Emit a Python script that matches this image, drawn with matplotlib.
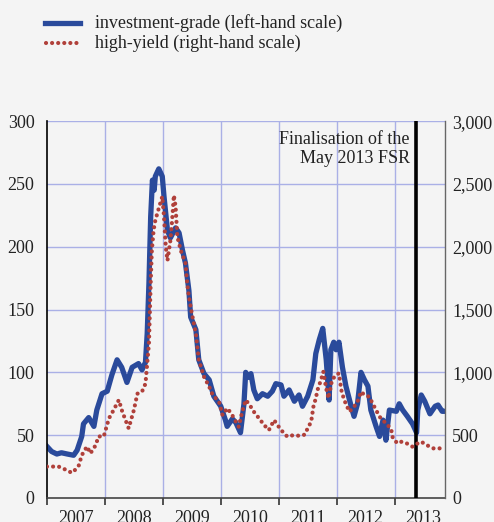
import matplotlib
matplotlib.use("Agg")
import matplotlib.pyplot as plt
from matplotlib.ticker import FixedLocator, FuncFormatter

plt.rcParams['font.family'] = ['Liberation Serif', 'DejaVu Serif']

# investment-grade (left-hand scale), basis points
ig_dates = [2007.00, 2007.08, 2007.17, 2007.25, 2007.35, 2007.46, 2007.52, 2007.60, 2007.63, 2007.72,
            2007.81, 2007.86, 2007.95, 2008.04, 2008.12, 2008.21, 2008.29, 2008.38, 2008.47, 2008.58,
            2008.64, 2008.70, 2008.73, 2008.76, 2008.79, 2008.82, 2008.85, 2008.87, 2008.93, 2008.99,
            2009.02, 2009.08, 2009.13, 2009.22, 2009.28, 2009.34, 2009.39, 2009.45, 2009.48, 2009.57,
            2009.62, 2009.71, 2009.80, 2009.88, 2010.00, 2010.08, 2010.11, 2010.20, 2010.26, 2010.34,
            2010.40, 2010.43, 2010.48, 2010.52, 2010.57, 2010.63, 2010.72, 2010.81, 2010.89, 2010.95,
            2011.04, 2011.09, 2011.18, 2011.27, 2011.35, 2011.41, 2011.50, 2011.59, 2011.64, 2011.70,
            2011.76, 2011.82, 2011.87, 2011.90, 2011.95, 2011.99, 2012.04, 2012.10, 2012.16, 2012.25,
            2012.30, 2012.36, 2012.42, 2012.48, 2012.54, 2012.59, 2012.68, 2012.74, 2012.80, 2012.85,
            2012.91, 2013.03, 2013.08, 2013.14, 2013.22, 2013.31, 2013.38, 2013.40, 2013.46, 2013.52,
            2013.61, 2013.70, 2013.75, 2013.82, 2013.87]
ig_values = [41, 37, 35, 36, 35, 34, 38, 49, 59, 64,
             57, 70, 83, 85, 98, 110, 104, 92, 104, 107,
             102, 108, 131, 171, 224, 253, 245, 256, 262, 256,
             240, 213, 207, 215, 211, 197, 187, 165, 144, 134,
             110, 99, 94, 81, 73, 62, 57, 63, 60, 52,
             75, 100, 96, 99, 86, 79, 83, 81, 85, 91,
             90, 81, 86, 77, 82, 73, 81, 94, 115, 126,
             135, 110, 78, 118, 124, 118, 124, 104, 89, 73,
             65, 75, 100, 94, 89, 70, 57, 49, 62, 46,
             70, 69, 75, 70, 65, 59, 52, 70, 82, 77,
             67, 73, 74, 69, 69]

# high-yield (right-hand scale), basis points
hy_dates = [2007.00, 2007.10, 2007.20, 2007.30, 2007.43, 2007.50, 2007.55, 2007.60, 2007.69, 2007.75,
            2007.84, 2007.89, 2007.98, 2008.07, 2008.15, 2008.24, 2008.30, 2008.41, 2008.50, 2008.56,
            2008.64, 2008.70, 2008.73, 2008.76, 2008.79, 2008.81, 2008.84, 2008.87, 2008.93, 2008.99,
            2009.02, 2009.05, 2009.08, 2009.13, 2009.16, 2009.19, 2009.22, 2009.25, 2009.31, 2009.39,
            2009.42, 2009.45, 2009.50, 2009.57, 2009.62, 2009.71, 2009.80, 2009.86, 2009.97, 2010.03,
            2010.11, 2010.18, 2010.26, 2010.31, 2010.37, 2010.43, 2010.50, 2010.57, 2010.66, 2010.75,
            2010.83, 2010.92, 2011.00, 2011.08, 2011.15, 2011.25, 2011.38, 2011.45, 2011.50, 2011.56,
            2011.60, 2011.64, 2011.67, 2011.73, 2011.77, 2011.82, 2011.86, 2011.92, 2011.99, 2012.04,
            2012.08, 2012.13, 2012.22, 2012.30, 2012.36, 2012.42, 2012.48, 2012.56, 2012.65, 2012.74,
            2012.85, 2012.94, 2012.97, 2013.05, 2013.12, 2013.19, 2013.31, 2013.40, 2013.46, 2013.55,
            2013.67, 2013.78, 2013.86]
hy_values = [250, 250, 250, 230, 200, 230, 260, 340, 410, 355,
             420, 490, 490, 634, 700, 780, 687, 555, 700, 830,
             846, 910, 1070, 1230, 1710, 1970, 2130, 2210, 2306, 2400,
             2240, 2000, 1890, 2050, 2210, 2410, 2320, 2080, 1970, 1870,
             1710, 1600, 1470, 1310, 1100, 965, 886, 820, 766, 660,
             714, 674, 607, 567, 687, 780, 740, 687, 634, 580,
             540, 620, 567, 520, 488, 500, 494, 505, 555, 607,
             730, 793, 860, 940, 1005, 870, 793, 940, 980, 992,
             860, 780, 687, 727, 766, 846, 820, 806, 727, 647,
             594, 550, 475, 435, 448, 440, 408, 435, 448, 422,
             395, 395, 374]

years = [2007, 2008, 2009, 2010, 2011, 2012, 2013]
left_ticks = [0, 50, 100, 150, 200, 250, 300]
right_ticks = [0, 500, 1000, 1500, 2000, 2500, 3000]
fsr_date = 2013.375
fsr_label = "Finalisation of the\nMay 2013 FSR"
ig_label = "investment-grade (left-hand scale)"
hy_label = "high-yield (right-hand scale)"

BG = '#f4f4f4'
BLUE = '#2a4a9b'
RED = '#b0403a'
GRID = '#aab0e6'
DOTS = (0, (0.01, 1.45))

fig = plt.figure(figsize=(4.94, 5.22), dpi=100, facecolor=BG)
ax = fig.add_axes([0.0951, 0.046, 0.8057, 0.722])
ax.set_facecolor(BG)
ax2 = ax.twinx()

xmin, xmax = 2007.0, 2013.87
ax.set_xlim(xmin, xmax)
ax.set_ylim(0, 300)
ax2.set_ylim(0, 3000)

# grid
for y in left_ticks[1:]:
    ax.axhline(y, color=GRID, lw=1, zorder=0)
for yr in years[1:]:
    ax.axvline(yr, color=GRID, lw=1, zorder=0)

ax2.plot(hy_dates, hy_values, color=RED, lw=3.0, linestyle=DOTS,
         dash_capstyle='round', zorder=3)
ax.plot(ig_dates, ig_values, color=BLUE, lw=3.8, solid_joinstyle='round', zorder=2)

ax.axvline(fsr_date, color='black', lw=2.6, zorder=5)
ax.text(fsr_date - 0.11, 292, fsr_label, ha='right', va='top', fontsize=13,
        color='#222222', linespacing=1.15, zorder=6)

# axes styling
ax.set_yticks(left_ticks)
ax2.set_yticks(right_ticks)
ax2.yaxis.set_major_formatter(FuncFormatter(lambda v, p: f"{int(v):,}"))
ax.tick_params(axis='y', length=0, labelsize=13, pad=9, colors='#222222')
ax2.tick_params(axis='y', length=0, labelsize=13, pad=5, colors='#222222')

ax.xaxis.set_major_locator(FixedLocator(years))
ax.xaxis.set_minor_locator(FixedLocator([y + 0.5 for y in years]))
ax.xaxis.set_major_formatter(FuncFormatter(lambda v, p: ""))
ax.xaxis.set_minor_formatter(FuncFormatter(lambda v, p: f"{int(v)}"))
ax.tick_params(axis='x', which='major', length=5, width=1.2, direction='out', color='#333333')
ax.tick_params(axis='x', which='minor', length=0, labelsize=13, pad=9, colors='#222222')

for a in (ax, ax2):
    a.spines['top'].set_visible(False)
ax.spines['left'].set_color('black')
ax.spines['left'].set_linewidth(1.2)
ax.spines['right'].set_visible(False)
ax2.spines['left'].set_visible(False)
ax2.spines['bottom'].set_visible(False)
ax2.spines['right'].set_color('#666666')
ax2.spines['right'].set_linewidth(1.0)
ax.spines['bottom'].set_color('#444444')
ax.spines['bottom'].set_linewidth(1.2)

# legend
fig.lines.append(plt.Line2D([45 / 494, 80 / 494], [1 - 23 / 522, 1 - 23 / 522], color=BLUE, lw=3.8,
                            transform=fig.transFigure))
fig.lines.append(plt.Line2D([46 / 494, 80 / 494], [1 - 43 / 522, 1 - 43 / 522], color=RED, lw=3.0,
                            linestyle=DOTS, dash_capstyle='round',
                            transform=fig.transFigure))
fig.text(95 / 494, 1 - 23 / 522, ig_label, ha='left', va='center', fontsize=13, color='#222222')
fig.text(95 / 494, 1 - 43 / 522, hy_label, ha='left', va='center', fontsize=13, color='#222222')

fig.savefig("out.png", dpi=100, facecolor=BG)
